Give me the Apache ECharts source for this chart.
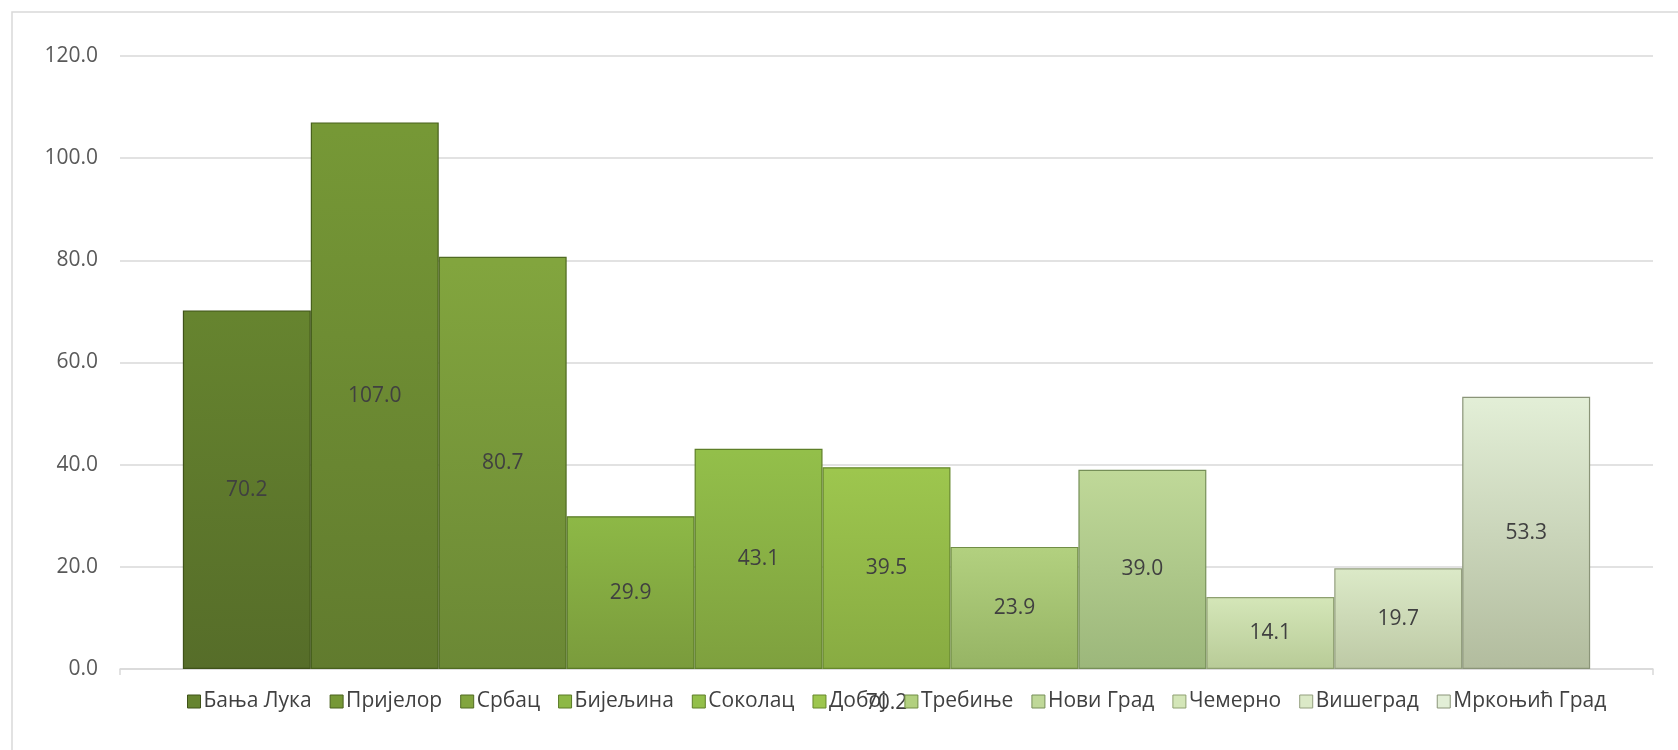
<!DOCTYPE html>
<html><head><meta charset="utf-8">
<script src="https://cdn.jsdelivr.net/npm/echarts@6/dist/echarts.min.js"></script>
<style>html,body{margin:0;padding:0;background:#fff}#c{width:1678px;height:750px}</style>
</head><body><div id="c"></div>
<script>
const categories = ['70.2'];
const seriesNames = ['Бања Лука','Пријелор','Србац','Бијељина','Соколац','Добој','Требиње','Нови Град','Чемерно','Вишеград','Мркоњић Град'];
const seriesValues = [70.2, 107.0, 80.7, 29.9, 43.1, 39.5, 23.9, 39.0, 14.1, 19.7, 53.3];
const yTicks = [0, 20, 40, 60, 80, 100, 120];
const topColors = ['#66842f','#769836','#82a53e','#8db846','#93bf4a','#9dc64e','#b2d07f','#bfd898','#d4e6b8','#dbe9c7','#e2eed6'];
const bottomColors = ['#566d29','#617b2e','#6b8835','#7a9b3c','#7ea03e','#88ab42','#96b464','#9cb77b','#b8cb97','#bdc9a5','#b2bc9e'];
const edgeColors = ['#3f5219','#48601d','#506b22','#5a7a26','#5e7f28','#66882b','#718d45','#768f58','#8ea070','#939f7e','#8a9478'];

const FONT = '"Open Sans", "Noto Sans", sans-serif';
const chart = echarts.init(document.getElementById('c'));
const series = seriesNames.map((name, i) => ({
  name: name,
  type: 'bar',
  data: [seriesValues[i]],
  barGap: '0%',
  barCategoryGap: '8.2%',
  itemStyle: {
    color: new echarts.graphic.LinearGradient(0, 0, 0, 1, [
      {offset: 0, color: topColors[i]},
      {offset: 0.015, color: topColors[i]},
      {offset: 1, color: bottomColors[i]}
    ]),
    borderColor: edgeColors[i],
    borderWidth: 1.2
  },
  label: {
    show: true,
    position: 'inside',
    formatter: p => p.value.toFixed(1),
    color: '#404040',
    fontSize: 21,
    fontFamily: FONT
  },
  emphasis: {disabled: true}
}));

chart.setOption({
  animation: false,
  backgroundColor: '#fff',
  graphic: [{
    type: 'rect',
    shape: {x: 12, y: 12, width: 1700, height: 800},
    style: {fill: 'none', stroke: '#d9d9d9', lineWidth: 1.5},
    silent: true
  }],
  grid: {left: 120, right: 25, top: 56, bottom: 81, containLabel: false},
  legend: {
    data: seriesNames.map((n, i) => ({name: n, itemStyle: {color: topColors[i], borderColor: edgeColors[i], borderWidth: 1}})),
    top: 686,
    left: 182,
    icon: 'rect',
    itemWidth: 13,
    itemHeight: 13,
    itemGap: 18,
    textStyle: {fontSize: 21, color: '#404040', fontFamily: FONT, padding: [0, 0, 0, -2]}
  },
  xAxis: {
    type: 'category',
    data: categories,
    axisLine: {lineStyle: {color: '#d9d9d9', width: 1.5}},
    axisTick: {show: true, length: 6, lineStyle: {color: '#d9d9d9', width: 1.5}},
    axisLabel: {fontSize: 21, color: '#404040', fontFamily: FONT, margin: 24}
  },
  yAxis: {
    type: 'value',
    min: yTicks[0],
    max: yTicks[yTicks.length - 1],
    interval: yTicks[1] - yTicks[0],
    axisLine: {show: false},
    axisTick: {show: false},
    splitLine: {lineStyle: {color: '#d9d9d9', width: 1.5}},
    axisLabel: {formatter: v => v.toFixed(1), fontSize: 21, color: '#595959', fontFamily: FONT, margin: 22}
  },
  series: series
});
</script></body></html>
